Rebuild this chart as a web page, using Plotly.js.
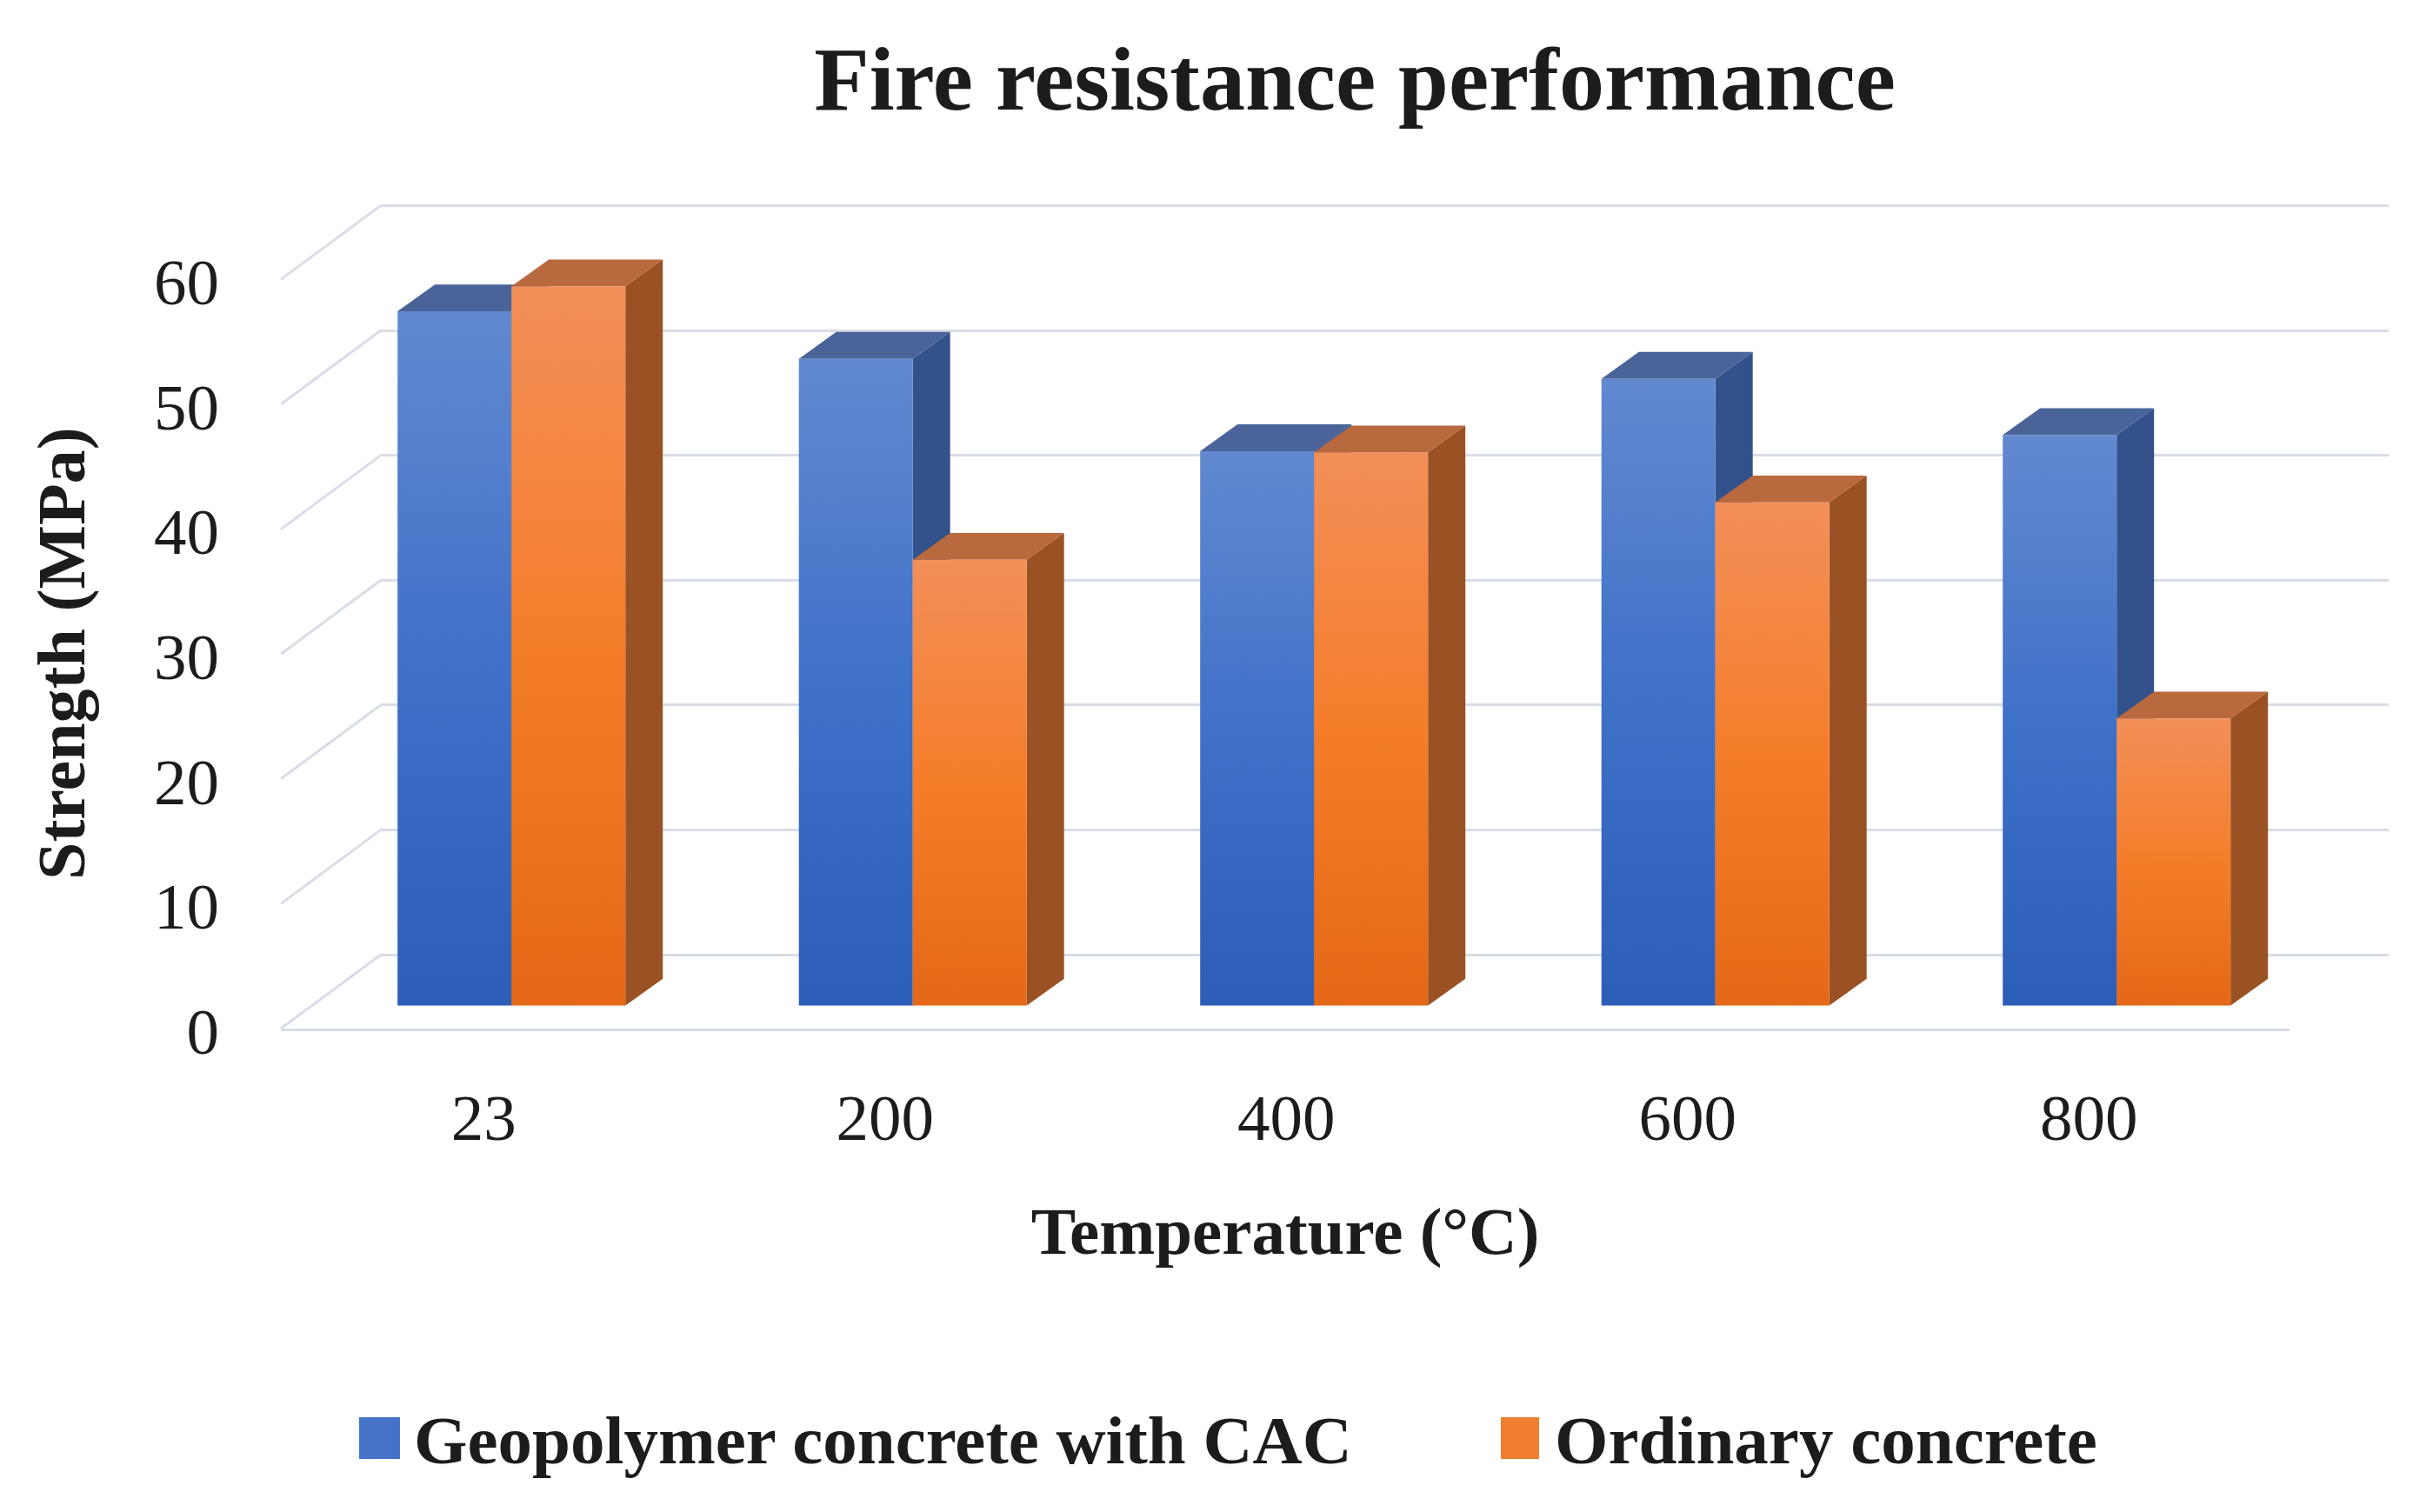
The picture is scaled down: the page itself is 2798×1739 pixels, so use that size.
<!DOCTYPE html>
<html>
<head>
<meta charset="utf-8">
<script src="https://cdn.plot.ly/plotly-3.0.1.min.js"></script>
<style>body { margin: 0; background: #fff; }</style>
</head>
<body>
<div id="plot" style="width:2798px;height:1739px"></div>
<script>
// values
const temperatures = ['23', '200', '400', '600', '800']
const geopolymer = [55.6, 51.8, 44.4, 50.2, 45.7]
const ordinary = [57.6, 35.7, 44.3, 40.3, 23.0]
const strengthTicks = [0, 10, 20, 30, 40, 50, 60]
const seriesNames = ['Geopolymer concrete with CAC', 'Ordinary concrete']

const W = 2798, H = 1739
const fx = p => p / W
const fy = p => 1 - p / H

// geometry of the fake 3d box, in px
const plotTop = 200, floorY = 1183
const unit = 14.36              // px per MPa
const step = 461.5              // px per category
const barBase = 26.5            // bar bottom above the front floor edge
const wallX = 115, wallY = 85   // depth of the floor
const barW = 131 / step
const depthX = 43 / step, depthY = 30.8 / unit
const firstGroup = 588.2, barsLeft = 323, barsRight = 2633

const gridColor = '#d9dde6'
const textColor = '#1c1c1c'
const faces = [
  {front: '#4473c8', top: '#4a6399', side: '#33518a'},
  {front: '#f07d30', top: '#b9693e', side: '#9a5123'}
]
const serif = 'Liberation Serif, Times New Roman, serif'

const xi = temperatures.map((t, i) => i)
const series = [geopolymer, ordinary]

const data = series.map((vals, s) => ({
  type: 'bar', name: seriesNames[s],
  x: xi, y: vals, xaxis: 'x2', yaxis: 'y2',
  width: barW, offset: s === 0 ? -barW : 0,
  marker: {color: faces[s].front, line: {width: 0}},
  showlegend: false, hoverinfo: 'x+y'
}))

// top and side faces of every bar, built from the same values
const shapes = []
series.forEach((vals, s) => {
  vals.forEach((v, j) => {
    const xl = j + (s === 0 ? -barW : 0), xr = xl + barW
    shapes.push({
      type: 'path', xref: 'x2', yref: 'y2', layer: 'below',
      path: `M${xr},0 L${xr},${v} L${xr + depthX},${v + depthY} L${xr + depthX},${depthY} Z`,
      fillcolor: faces[s].side, line: {width: 0}
    })
    shapes.push({
      type: 'path', xref: 'x2', yref: 'y2', layer: 'below',
      path: `M${xl},${v} L${xr},${v} L${xr + depthX},${v + depthY} L${xl + depthX},${v + depthY} Z`,
      fillcolor: faces[s].top, line: {width: 0}
    })
  })
})

// left wall: gridlines folding to the front
strengthTicks.forEach(v => {
  shapes.push({
    type: 'line', xref: 'paper', yref: 'y', layer: 'below',
    x0: fx(barsLeft), y0: v - wallY / unit, x1: fx(barsLeft + wallX), y1: v,
    line: {color: gridColor, width: 3}
  })
})

// legend keys
const keyX = [[413, 460], [1726, 1770]]
const keyText = [474, 1786]
const annotations = []
seriesNames.forEach((n, s) => {
  shapes.push({
    type: 'rect', xref: 'paper', yref: 'paper',
    x0: fx(keyX[s][0]), x1: fx(keyX[s][1]), y0: fy(1678), y1: fy(1630),
    fillcolor: faces[s].front, line: {width: 0}
  })
  annotations.push({
    text: n, xref: 'paper', yref: 'paper', x: fx(keyText[s]), y: fy(1656),
    xanchor: 'left', yanchor: 'middle', showarrow: false,
    font: {family: serif, size: 79, weight: 'bold', color: textColor}
  })
})

// y title sits lower than the middle of the plot area
annotations.push({
  text: 'Strength (MPa)', xref: 'paper', yref: 'paper',
  x: fx(70), y: fy(752), xanchor: 'center', yanchor: 'middle',
  textangle: -90, showarrow: false,
  font: {family: serif, size: 78, weight: 'bold', color: textColor}
})

const yDomain = [fy(floorY), fy(plotTop)]
const span = (floorY - plotTop) / unit

const layout = {
  width: W, height: H,
  margin: {l: 0, r: 0, t: 0, b: 0},
  paper_bgcolor: '#fff', plot_bgcolor: 'rgba(0,0,0,0)',
  font: {family: serif, color: textColor},
  title: {
    text: 'Fire resistance performance',
    font: {family: serif, size: 104, weight: 'bold', color: textColor},
    x: fx(1558), xanchor: 'center', y: fy(90), yanchor: 'middle'
  },
  // back wall, only carries the gridlines
  xaxis: {domain: [fx(barsLeft + wallX), fx(2747)], range: [0, 1], visible: false, fixedrange: true},
  yaxis: {
    domain: yDomain, range: [-wallY / unit, span - wallY / unit],
    tickvals: strengthTicks, showticklabels: false,
    showgrid: true, gridcolor: gridColor, gridwidth: 3, zeroline: false, fixedrange: true
  },
  // the bars
  xaxis2: {
    domain: [fx(barsLeft), fx(barsRight)], anchor: 'y2',
    range: [-(firstGroup - barsLeft) / step, (barsRight - firstGroup) / step],
    tickvals: xi, ticktext: temperatures, ticks: '',
    ticklabelshift: -32, ticklabelstandoff: 35,
    tickfont: {family: serif, size: 75, color: textColor},
    showgrid: false, zeroline: false,
    showline: true, linecolor: gridColor, linewidth: 3,
    title: {text: 'Temperature (°C)', standoff: 63,
      font: {family: serif, size: 77, weight: 'bold', color: textColor}},
    fixedrange: true
  },
  yaxis2: {
    domain: yDomain, anchor: 'x2',
    range: [-barBase / unit, span - barBase / unit],
    tickvals: strengthTicks, ticks: '',
    ticklabelshift: 29, ticklabelstandoff: 70,
    tickfont: {family: serif, size: 75, color: textColor},
    showgrid: false, zeroline: false, showline: false,
    fixedrange: true
  },
  shapes: shapes,
  annotations: annotations,
  showlegend: false
}

const gradients = [
  ['gradGeo', ['#6289d0', '#3f71c9', '#2c5eb8']],
  ['gradOrd', ['#f38f59', '#f57d2a', '#e46817']]
]

// vertical shading of the front faces, as in the original
function shadeBars () {
  const svg = document.querySelector('#plot .main-svg')
  const defs = svg.querySelector('defs')
  const ns = 'http://www.w3.org/2000/svg'
  gradients.forEach(([id, stops]) => {
    if (defs.querySelector('#' + id)) return
    const g = document.createElementNS(ns, 'linearGradient')
    g.setAttribute('id', id)
    g.setAttribute('x1', '0'); g.setAttribute('y1', '0')
    g.setAttribute('x2', '0'); g.setAttribute('y2', '1')
    stops.forEach((c, k) => {
      const st = document.createElementNS(ns, 'stop')
      st.setAttribute('offset', (k / (stops.length - 1)).toString())
      st.setAttribute('stop-color', c)
      g.appendChild(st)
    })
    defs.appendChild(g)
  })
  document.querySelectorAll('#plot .trace.bars').forEach((tr, s) => {
    tr.querySelectorAll('.point path').forEach(p => {
      p.style.setProperty('fill', `url(#${gradients[s][0]})`)
    })
  })
}

Plotly.newPlot('plot', data, layout, {staticPlot: true}).then(shadeBars)
</script>
</body>
</html>
